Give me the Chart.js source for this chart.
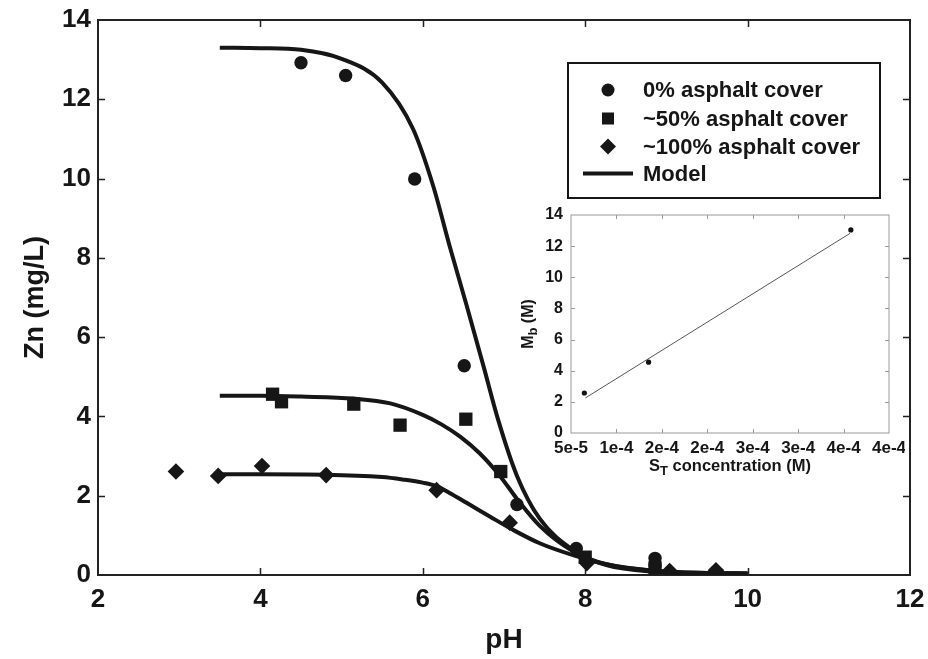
<!DOCTYPE html>
<html><head><meta charset="utf-8">
<script src="https://cdn.jsdelivr.net/npm/chart.js@4/dist/chart.umd.min.js"></script>
<style>
html,body{margin:0;padding:0;background:#fff;}
#wrap{position:relative;width:928px;height:659px;overflow:hidden;}
#main{position:absolute;left:0;top:0;}
#inset{position:absolute;left:515px;top:200px;}
</style></head><body>
<div id="wrap"><canvas id="main" width="928" height="659"></canvas><canvas id="inset" width="390" height="285"></canvas></div>
<script>
// ---------- data ----------
const xTickValues = [2, 4, 6, 8, 10, 12];
const yTickValues = [0, 2, 4, 6, 8, 10, 12, 14];

const ph0   = [4.50, 5.05, 5.90, 6.51, 7.16, 7.89, 8.86, 8.86];
const zn0   = [12.92, 12.60, 9.99, 5.28, 1.78, 0.67, 0.42, 0.25];
const ph50  = [4.15, 4.26, 5.15, 5.72, 6.53, 6.96, 8.00, 8.86];
const zn50  = [4.56, 4.37, 4.31, 3.78, 3.93, 2.61, 0.45, 0.18];
const ph100 = [2.96, 3.48, 4.02, 4.81, 6.17, 7.07, 8.02, 9.04, 9.61];
const zn100 = [2.61, 2.50, 2.75, 2.52, 2.14, 1.32, 0.30, 0.10, 0.12];

const modelPh0  = [3.5, 4.0, 4.5, 5.0, 5.5, 5.88, 6.13, 6.33, 6.54, 6.75, 6.93, 7.16, 7.44, 7.85, 8.26, 8.88, 9.5, 10.0];
const modelZn0  = [13.30, 13.29, 13.25, 13.02, 12.42, 11.25, 9.80, 8.30, 6.80, 5.25, 3.90, 2.50, 1.42, 0.63, 0.25, 0.08, 0.04, 0.03];
const modelPh50 = [3.5, 4.0, 4.5, 5.15, 5.6, 6.0, 6.23, 6.46, 6.70, 6.95, 7.16, 7.44, 7.85, 8.26, 8.88, 9.5, 10.0];
const modelZn50 = [4.52, 4.52, 4.50, 4.45, 4.33, 4.04, 3.80, 3.49, 3.07, 2.50, 1.92, 1.24, 0.60, 0.27, 0.10, 0.05, 0.04];
const modelPh100 = [3.5, 4.0, 4.8, 5.5, 5.75, 6.0, 6.17, 6.33, 6.54, 6.83, 7.11, 7.44, 7.85, 8.26, 8.88, 9.5, 10.0];
const modelZn100 = [2.54, 2.54, 2.53, 2.47, 2.41, 2.33, 2.24, 2.07, 1.82, 1.47, 1.14, 0.80, 0.50, 0.27, 0.10, 0.05, 0.04];

const seriesLabels = ['0% asphalt cover', '~50% asphalt cover', '~100% asphalt cover', 'Model'];

// inset
const stConc = [6.47e-5, 1.354e-4, 3.58e-4];
const mbVals = [2.57, 4.55, 13.04];
const fitSt  = [6.58e-5, 3.571e-4];
const fitMb  = [2.25, 12.82];
const insetXTickValues = [5e-5, 1e-4, 1.5e-4, 2e-4, 2.5e-4, 3e-4, 3.5e-4, 4e-4];
const insetXTickLabels = ['5e-5', '1e-4', '2e-4', '2e-4', '3e-4', '3e-4', '4e-4', '4e-4'];
const insetYTickValues = [0, 2, 4, 6, 8, 10, 12, 14];

// ---------- helpers ----------
const F = '"Liberation Sans", Arial, Helvetica, sans-serif';
const INK = '#161616';
const pts = (xs, ys) => xs.map((x, i) => ({x: x, y: ys[i]}));

function framePlugin(id, tickLen, tickColor, tickWidth, frameColor, frameWidth) {
  return {
    id: id,
    beforeDatasetsDraw(chart) {
      const ctx = chart.ctx, a = chart.chartArea;
      const xs = chart.scales.x, ys = chart.scales.y;
      ctx.save();
      ctx.strokeStyle = tickColor; ctx.lineWidth = tickWidth;
      ctx.beginPath();
      xs.ticks.forEach(t => {
        if (t.value <= xs.min || t.value >= xs.max) return;
        const px = Math.round(xs.getPixelForValue(t.value)) + 0.5;
        ctx.moveTo(px, a.bottom); ctx.lineTo(px, a.bottom - tickLen);
        ctx.moveTo(px, a.top); ctx.lineTo(px, a.top + tickLen);
      });
      ys.ticks.forEach(t => {
        if (t.value <= ys.min || t.value >= ys.max) return;
        const py = Math.round(ys.getPixelForValue(t.value)) + 0.5;
        ctx.moveTo(a.left, py); ctx.lineTo(a.left + tickLen, py);
        ctx.moveTo(a.right, py); ctx.lineTo(a.right - tickLen, py);
      });
      ctx.stroke();
      ctx.strokeStyle = frameColor; ctx.lineWidth = frameWidth;
      ctx.strokeRect(a.left, a.top, a.right - a.left, a.bottom - a.top);
      ctx.restore();
    }
  };
}

const boxLegend = {
  id: 'boxLegend',
  afterDraw(chart) {
    const ctx = chart.ctx;
    const bx = 568, by = 63, bw = 312, bh = 135;
    ctx.save();
    ctx.fillStyle = '#fff';
    ctx.fillRect(bx, by, bw, bh);
    ctx.strokeStyle = INK; ctx.lineWidth = 2;
    ctx.strokeRect(bx, by, bw, bh);
    const rows = [90, 118.5, 146.5, 173.5];
    const mx = 608, tx = 643;
    ctx.fillStyle = INK;
    ctx.beginPath(); ctx.arc(mx, rows[0], 6.5, 0, Math.PI * 2); ctx.fill();
    ctx.fillRect(mx - 6, rows[1] - 6, 12, 12);
    ctx.beginPath();
    ctx.moveTo(mx - 8, rows[2]); ctx.lineTo(mx, rows[2] - 8);
    ctx.lineTo(mx + 8, rows[2]); ctx.lineTo(mx, rows[2] + 8); ctx.closePath(); ctx.fill();
    ctx.strokeStyle = INK; ctx.lineWidth = 4;
    ctx.beginPath(); ctx.moveTo(583, rows[3]); ctx.lineTo(633, rows[3]); ctx.stroke();
    ctx.font = 'bold 22px ' + F;
    ctx.textAlign = 'left'; ctx.textBaseline = 'middle';
    seriesLabels.forEach((s, i) => ctx.fillText(s, tx, rows[i] + 1));
    ctx.restore();
  }
};

// ---------- main chart ----------
new Chart(document.getElementById('main'), {
  type: 'scatter',
  data: {
    datasets: [
      {label: seriesLabels[0], data: pts(ph0, zn0), pointStyle: 'circle', pointRadius: 6.7,
       backgroundColor: INK, borderWidth: 0, showLine: false, order: 0},
      {label: seriesLabels[1], data: pts(ph50, zn50), pointStyle: 'rect', pointRadius: 9.4,
       backgroundColor: INK, borderWidth: 0, showLine: false, order: 0},
      {label: seriesLabels[2], data: pts(ph100, zn100), pointStyle: 'rectRot', pointRadius: 8.3,
       backgroundColor: INK, borderWidth: 0, showLine: false, order: 0},
      {label: seriesLabels[3], data: pts(modelPh0, modelZn0), showLine: true, pointRadius: 0,
       borderColor: INK, borderWidth: 4, cubicInterpolationMode: 'monotone', order: 1},
      {label: seriesLabels[3], data: pts(modelPh50, modelZn50), showLine: true, pointRadius: 0,
       borderColor: INK, borderWidth: 4, cubicInterpolationMode: 'monotone', order: 1},
      {label: seriesLabels[3], data: pts(modelPh100, modelZn100), showLine: true, pointRadius: 0,
       borderColor: INK, borderWidth: 4, cubicInterpolationMode: 'monotone', order: 1}
    ]
  },
  options: {
    responsive: false, animation: false, devicePixelRatio: 1,
    layout: {padding: {top: 20, right: 18, left: 0, bottom: 0}},
    plugins: {legend: {display: false}, tooltip: {enabled: false}},
    scales: {
      x: {
        type: 'linear', min: 2, max: 12,
        afterBuildTicks: s => { s.ticks = xTickValues.map(v => ({value: v})); },
        afterFit: s => { s.height = 84; s.paddingLeft = 0; s.paddingRight = 0; },
        ticks: {font: {family: F, size: 26, weight: 'bold'}, color: INK, padding: 9, maxRotation: 0, autoSkip: false},
        grid: {display: false, drawTicks: false}, border: {display: false},
        title: {display: true, text: 'pH', font: {family: F, size: 28, weight: 'bold'}, color: INK, padding: {top: 0, bottom: 2}}
      },
      y: {
        type: 'linear', min: 0, max: 14,
        afterBuildTicks: s => { s.ticks = yTickValues.map(v => ({value: v})); },
        afterFit: s => { s.width = 98; s.paddingTop = 0; s.paddingBottom = 0; },
        ticks: {font: {family: F, size: 26, weight: 'bold'}, color: INK, padding: 7, autoSkip: false},
        grid: {display: false, drawTicks: false}, border: {display: false},
        title: {display: true, text: 'Zn (mg/L)', font: {family: F, size: 27, weight: 'bold'}, color: INK, padding: {top: 19, bottom: 0}}
      }
    }
  },
  plugins: [framePlugin('mainFrame', 7, '#222', 1.5, '#222', 2), boxLegend]
});

// ---------- inset chart ----------
function drawSubText(ctx, parts, size) {
  const main = 'bold ' + size + 'px ' + F, sub = 'bold ' + Math.round(size * 0.8) + 'px ' + F;
  let w = 0;
  parts.forEach(p => { ctx.font = p[1] ? sub : main; w += ctx.measureText(p[0]).width; });
  let x = -w / 2;
  ctx.textAlign = 'left'; ctx.textBaseline = 'alphabetic';
  parts.forEach(p => {
    ctx.font = p[1] ? sub : main;
    ctx.fillText(p[0], x, p[1] ? size * 0.62 : size * 0.36);
    x += ctx.measureText(p[0]).width;
  });
}

const insetTitles = {
  id: 'insetTitles',
  afterDraw(chart) {
    const ctx = chart.ctx, a = chart.chartArea;
    ctx.save();
    ctx.fillStyle = INK;
    ctx.translate((a.left + a.right) / 2, 265);
    drawSubText(ctx, [['S', false], ['T', true], [' concentration (M)', false]], 16.5);
    ctx.restore();
    ctx.save();
    ctx.fillStyle = INK;
    ctx.translate(12, (a.top + a.bottom) / 2);
    ctx.rotate(-Math.PI / 2);
    drawSubText(ctx, [['M', false], ['b', true], [' (M)', false]], 16);
    ctx.restore();
  }
};

new Chart(document.getElementById('inset'), {
  type: 'scatter',
  data: {
    datasets: [
      {label: 'Mb', data: pts(stConc, mbVals), pointStyle: 'circle', pointRadius: 2.6,
       backgroundColor: '#111', borderWidth: 0, showLine: false, order: 0},
      {label: 'fit', data: pts(fitSt, fitMb), showLine: true, pointRadius: 0,
       borderColor: '#555', borderWidth: 1, order: 1}
    ]
  },
  options: {
    responsive: false, animation: false, devicePixelRatio: 1,
    layout: {padding: {top: 15, right: 16, left: 0, bottom: 0}},
    plugins: {legend: {display: false}, tooltip: {enabled: false}},
    scales: {
      x: {
        type: 'linear', min: 5e-5, max: 4e-4,
        afterBuildTicks: s => { s.ticks = insetXTickValues.map(v => ({value: v})); },
        afterFit: s => { s.height = 52; s.paddingLeft = 0; s.paddingRight = 0; },
        ticks: {font: {family: F, size: 17, weight: 'bold'}, color: INK, padding: 5, maxRotation: 0, autoSkip: false,
                callback: (v, i) => insetXTickLabels[i]},
        grid: {display: false, drawTicks: false}, border: {display: false}
      },
      y: {
        type: 'linear', min: 0, max: 14,
        afterBuildTicks: s => { s.ticks = insetYTickValues.map(v => ({value: v})); },
        afterFit: s => { s.width = 56; s.paddingTop = 0; s.paddingBottom = 0; },
        ticks: {font: {family: F, size: 16, weight: 'bold'}, color: INK, padding: 8, autoSkip: false},
        grid: {display: false, drawTicks: false}, border: {display: false}
      }
    }
  },
  plugins: [framePlugin('insetFrame', 4, '#999', 1, '#9a9a9a', 1), insetTitles]
});
</script>
</body></html>
